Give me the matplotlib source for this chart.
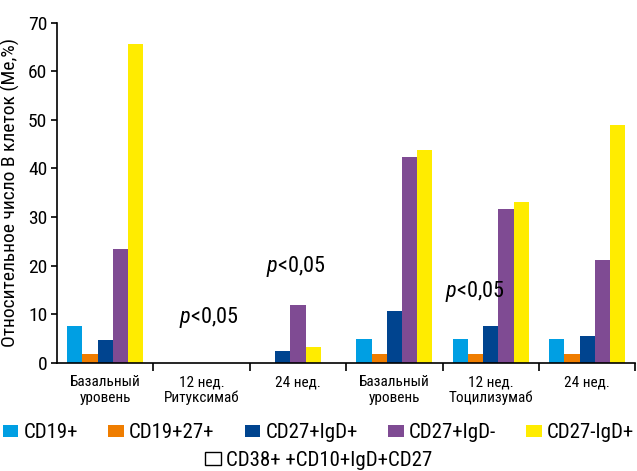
import matplotlib.pyplot as plt
from matplotlib.patches import Patch
import numpy as np

plt.rcParams['font.family'] = ['Roboto Condensed', 'DejaVu Sans']
plt.rcParams['mathtext.fontset'] = 'custom'
plt.rcParams['mathtext.it'] = 'Roboto Condensed:italic'
plt.rcParams['mathtext.rm'] = 'Roboto Condensed'

# Group labels and series values (Me, %); nan = not measured
groups = ['Базальный\nуровень', '12 нед.\nРитуксимаб', '24 нед.',
          'Базальный\nуровень', '12 нед.\nТоцилизумаб', '24 нед.']
series = ['CD19+', 'CD19+27+', 'CD27+IgD+', 'CD27+IgD-', 'CD27-IgD+',
          'CD38+ +CD10+IgD+CD27']
nan = np.nan
cd19 = [7.6, nan, nan, 4.9, 4.9, 4.9]
cd19_27 = [1.8, nan, nan, 1.8, 1.8, 1.8]
cd27_igd_pos = [4.7, nan, 2.4, 10.6, 7.5, 5.5]
cd27_igd_neg = [23.4, nan, 11.9, 42.3, 31.6, 21.1]
cd27neg_igd = [65.6, nan, 3.2, 43.8, 33.1, 48.9]
cd38_cd10 = [nan, nan, nan, nan, nan, nan]
values = [cd19, cd19_27, cd27_igd_pos, cd27_igd_neg, cd27neg_igd, cd38_cd10]

colors = ['#009fe3', '#ef7d00', '#00448f', '#7f4b93', '#ffec00', 'white']

# p-value notes
notes_x = [1.57, 2.48, 4.33]
notes_y = [9.2, 19.7, 14.6]
notes = ['<0,05', '<0,05', '<0,05']

fig = plt.figure(figsize=(6.37, 4.71), dpi=100)
ax = fig.add_axes([0.0895, 0.23, 0.908, 0.722])

width = 0.158
data = np.array(values, dtype=float)
for g in range(len(groups)):
    present = [s for s in range(len(series)) if not np.isnan(data[s, g])]
    n = len(present)
    for k, s in enumerate(present):
        x = g + 0.5 + (k - (n - 1) / 2) * width
        ax.bar(x, data[s, g], width=width, color=colors[s],
               edgecolor='black' if colors[s] == 'white' else 'none',
               linewidth=0.8, zorder=2)

for x, y, t in zip(notes_x, notes_y, notes):
    ax.text(x, y, r'$p$' + t, fontsize=16, ha='center', va='center')

ax.set_xlim(0, 6)
ax.set_ylim(0, 70)
ax.set_yticks(range(0, 71, 10))
ax.tick_params(axis='y', labelsize=14, direction='out', length=4, width=1.2, pad=3)
ax.set_xticks(np.arange(len(groups)) + 0.5)
ax.set_xticklabels(groups, fontsize=11, linespacing=1.15)
ax.set_xticks(np.arange(1, len(groups) + 1), minor=True)
ax.tick_params(axis='x', which='major', length=0, pad=9)
ax.tick_params(axis='x', which='minor', length=6, width=1.2, direction='out')
for s in ['top', 'right']:
    ax.spines[s].set_visible(False)
for s in ['left', 'bottom']:
    ax.spines[s].set_linewidth(1.2)
ax.set_ylabel('Относительное число В клеток (Ме,%)', fontsize=14, labelpad=6)

handles = [Patch(facecolor=c, edgecolor='black' if c == 'white' else 'none')
           for c in colors]
fig.legend(handles[:5], series[:5], loc='center', ncol=5,
           bbox_to_anchor=(0.5, 0.081), frameon=False, fontsize=15,
           handlelength=0.75, handleheight=0.55, handletextpad=0.25,
           columnspacing=1.45, borderaxespad=0, borderpad=0)
fig.legend(handles[5:], series[5:], loc='center',
           bbox_to_anchor=(0.5, 0.022), frameon=False, fontsize=15,
           handlelength=0.75, handleheight=0.55, handletextpad=0.25,
           borderpad=0)

fig.savefig('out.png', dpi=100)
